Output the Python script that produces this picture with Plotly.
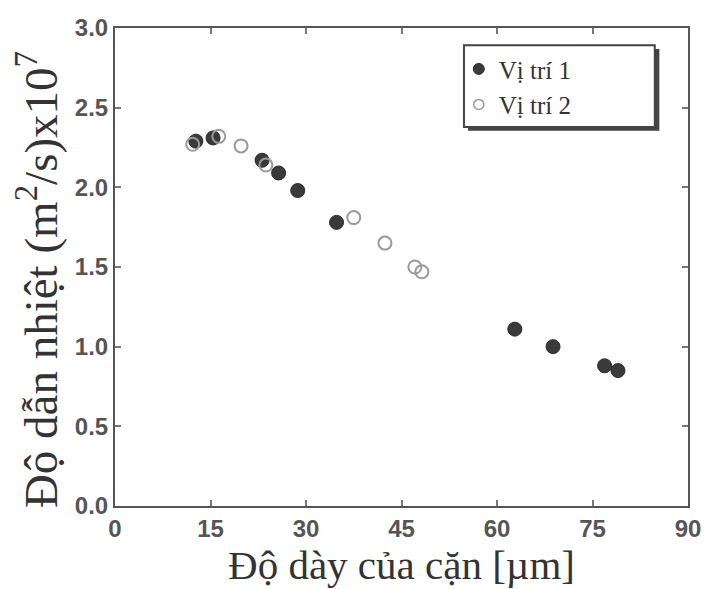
import plotly.graph_objects as go

# Data
x_vt1 = [12.7, 15.4, 23.1, 25.7, 28.7, 34.8, 62.8, 68.8, 76.9, 79.0]
y_vt1 = [2.29, 2.31, 2.17, 2.09, 1.98, 1.78, 1.11, 1.00, 0.88, 0.85]

x_vt2 = [12.2, 16.3, 19.8, 23.7, 37.5, 42.4, 47.1, 48.2]
y_vt2 = [2.27, 2.32, 2.26, 2.14, 1.81, 1.65, 1.50, 1.47]

series_names = ["Vị trí 1", "Vị trí 2"]

x_ticks = [0, 15, 30, 45, 60, 75, 90]
y_ticks = [0.0, 0.5, 1.0, 1.5, 2.0, 2.5, 3.0]
y_ticklabels = ["0.0", "0.5", "1.0", "1.5", "2.0", "2.5", "3.0"]

x_title = "Độ dày của cặn [µm]"
y_title = "Độ dẫn nhiệt (m<sup>2</sup>/s)x10<sup>7</sup>"

FILLED = dict(symbol="circle", color="#3a3a3a", line=dict(color="#2a2a2a", width=1))
OPEN = dict(symbol="circle-open", color="#9a9a9a", line=dict(color="#9a9a9a", width=2))

fig = go.Figure()
fig.add_trace(go.Scatter(x=x_vt1, y=y_vt1, mode="markers", name=series_names[0],
                         showlegend=False, marker=dict(size=14, **FILLED)))
fig.add_trace(go.Scatter(x=x_vt2, y=y_vt2, mode="markers", name=series_names[1],
                         showlegend=False, marker=dict(size=13, **OPEN)))
# legend entries (smaller legend symbols, as in the reference)
fig.add_trace(go.Scatter(x=[None], y=[None], mode="markers", name=series_names[0],
                         marker=dict(size=11, **FILLED)))
fig.add_trace(go.Scatter(x=[None], y=[None], mode="markers", name=series_names[1],
                         marker=dict(size=10, symbol="circle-open", color="#9a9a9a",
                                     line=dict(color="#9a9a9a", width=1.5))))

axis_common = dict(
    showgrid=False, zeroline=False, showline=True, linecolor="#555555",
    linewidth=2, mirror="ticks", ticks="inside", ticklen=6, tickwidth=1.5,
    tickcolor="#777777", automargin=False,
    tickfont=dict(family="Liberation Sans, Arial, sans-serif", size=24,
                  color="#555555", weight="bold"),
)

fig.update_xaxes(
    range=[0, 90], tickvals=x_ticks, ticktext=[str(v) for v in x_ticks],
    title=dict(text=x_title,
               font=dict(family="Liberation Serif, Times New Roman, serif",
                         size=41, color="#333333"),
               standoff=0),
    **axis_common,
)
fig.update_yaxes(
    range=[0, 3.0], tickvals=y_ticks, ticktext=y_ticklabels,
    **axis_common,
)

# y-axis title as rotated annotation (positioned like the reference)
fig.add_annotation(
    text=y_title, xref="paper", yref="paper", x=-0.134, y=0.473,
    xanchor="center", yanchor="middle", textangle=-90, showarrow=False,
    font=dict(family="Liberation Serif, Times New Roman, serif", size=47,
              color="#333333"),
)

# legend box with drop shadow (drawn as shapes)
fig.add_shape(type="rect", xref="paper", yref="paper",
              x0=0.616, x1=0.950, y0=0.785, y1=0.956,
              fillcolor="#444444", line=dict(width=0), layer="above")
fig.add_shape(type="rect", xref="paper", yref="paper",
              x0=0.609, x1=0.942, y0=0.793, y1=0.964,
              fillcolor="white", line=dict(color="#444444", width=2), layer="above")

fig.update_layout(
    width=705, height=589,
    margin=dict(l=115, r=17, t=28, b=83),
    paper_bgcolor="white", plot_bgcolor="white",
    legend=dict(
        x=0.600, y=0.962, xanchor="left", yanchor="top",
        bgcolor="rgba(0,0,0,0)", borderwidth=0,
        font=dict(family="Liberation Serif, Times New Roman, serif",
                  size=25, color="#333333"),
        tracegroupgap=0,
    ),
    showlegend=True,
)

fig.write_html("out.html", config={"displayModeBar": False},
               post_script="document.body.style.margin='0';"
                           "document.body.style.padding='0';")
